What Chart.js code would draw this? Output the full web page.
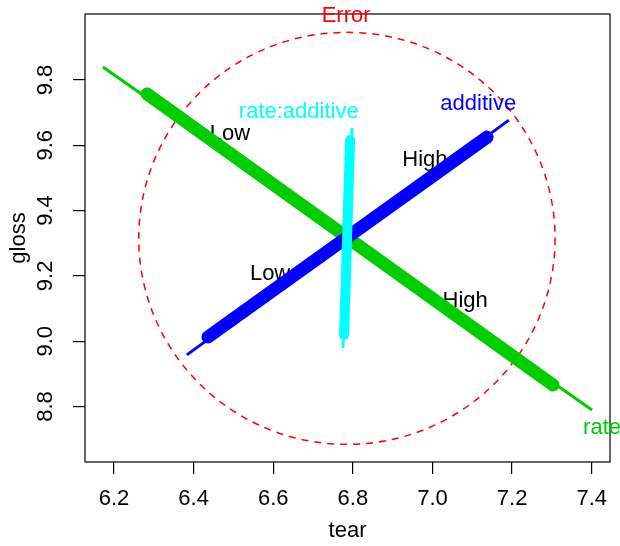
<!DOCTYPE html>
<html>
<head>
<meta charset="utf-8">
<script src="https://cdn.jsdelivr.net/npm/chart.js@4/dist/chart.umd.min.js"></script>
<style>
  html, body { margin: 0; padding: 0; background: #fff; }
  #wrap { width: 620px; height: 546px; }
</style>
</head>
<body>
<div id="wrap"><canvas id="hePlot" width="620" height="546"></canvas></div>
<script>
// HE plot: tear vs gloss, hypothesis lines for rate, additive and their interaction

const xTicks = [6.2, 6.4, 6.6, 6.8, 7.0, 7.2, 7.4];
const yTicks = [8.8, 9.0, 9.2, 9.4, 9.6, 9.8];

// [tear, gloss] end points of each degenerate (1 df) hypothesis ellipse
const rateLine = [[6.172, 9.840], [7.401, 8.789]];
const additiveLine = [[6.383, 8.958], [7.192, 9.677]];
const interLine = [[6.798, 9.653], [6.775, 8.979]];

// level means for each effect
const rateMeans = [[6.283, 9.757], [7.303, 8.866]];
const additiveMeans = [[6.436, 9.013], [7.137, 9.625]];
const interMeans = [[6.793, 9.616], [6.778, 9.019]];

// error ellipse
const errCenter = [6.785, 9.315];
const errRadii = [0.523, 0.631];

// level labels and where they sit
const levelNames = ['Low', 'High', 'Low', 'High'];
const levelPos = [[6.491, 9.635], [7.082, 9.123], [6.592, 9.206], [6.981, 9.555]];

// effect labels
const effectNames = ['rate', 'additive', 'rate:additive', 'Error'];
const effectPos = [[7.426, 8.734], [7.115, 9.726], [6.664, 9.702], [6.783, 9.996]];

const GREEN = '#00CD00', BLUE = '#0000FF', CYAN = '#00FFFF', RED = '#FF0000';
const effectColors = [GREEN, BLUE, CYAN, RED];
const FONT = "'Liberation Sans', Arial, Helvetica, sans-serif";
const FSIZE = 22;

function seg(pts) { return pts.map(p => ({ x: p[0], y: p[1] })); }

function lineSet(pts, color, width, order, cap) {
    return {
        data: seg(pts),
        showLine: true,
        borderColor: color,
        borderWidth: width,
        borderCapStyle: cap || 'butt',
        pointRadius: 0,
        order: order
    };
}

const hePlugin = {
    id: 'heDecor',
    beforeDatasetsDraw(chart) {
        const ctx = chart.ctx;
        const xs = chart.scales.x, ys = chart.scales.y;
        // dashed error ellipse
        const cx = xs.getPixelForValue(errCenter[0]);
        const cy = ys.getPixelForValue(errCenter[1]);
        const rx = xs.getPixelForValue(errCenter[0] + errRadii[0]) - cx;
        const ry = cy - ys.getPixelForValue(errCenter[1] + errRadii[1]);
        ctx.save();
        ctx.strokeStyle = RED;
        ctx.lineWidth = 1.5;
        ctx.setLineDash([7, 6]);
        ctx.beginPath();
        ctx.ellipse(cx, cy, rx, ry, 0, 0, Math.PI * 2);
        ctx.stroke();
        ctx.restore();

        // level labels sit under the lines
        ctx.save();
        ctx.font = FSIZE + 'px ' + FONT;
        ctx.fillStyle = '#000';
        ctx.textAlign = 'center';
        ctx.textBaseline = 'middle';
        levelNames.forEach((t, i) => {
            ctx.fillText(t, xs.getPixelForValue(levelPos[i][0]), ys.getPixelForValue(levelPos[i][1]));
        });
        ctx.restore();
    },
    afterDatasetsDraw(chart) {
        const ctx = chart.ctx;
        const a = chart.chartArea;
        const xs = chart.scales.x, ys = chart.scales.y;
        ctx.save();
        ctx.strokeStyle = '#000';
        ctx.lineWidth = 1.2;
        ctx.strokeRect(a.left, a.top, a.right - a.left, a.bottom - a.top);
        ctx.font = FSIZE + 'px ' + FONT;
        ctx.textAlign = 'center';
        ctx.textBaseline = 'middle';
        effectNames.forEach((t, i) => {
            ctx.fillStyle = effectColors[i];
            ctx.fillText(t, xs.getPixelForValue(effectPos[i][0]), ys.getPixelForValue(effectPos[i][1]));
        });
        ctx.restore();
    }
};

const tickFont = { family: FONT, size: FSIZE };

new Chart(document.getElementById('hePlot'), {
    type: 'scatter',
    data: {
        datasets: [
            lineSet(rateLine, GREEN, 3, 6),
            lineSet(rateMeans, GREEN, 13, 5, 'round'),
            lineSet(additiveLine, BLUE, 3, 4),
            lineSet(additiveMeans, BLUE, 13, 3, 'round'),
            lineSet(interLine, CYAN, 3, 2),
            lineSet(interMeans, CYAN, 10, 1, 'round')
        ]
    },
    options: {
        responsive: false,
        animation: false,
        devicePixelRatio: 1,
        events: [],
        layout: { padding: { top: 14, right: 10, left: 0, bottom: 0 } },
        plugins: { legend: { display: false }, tooltip: { enabled: false } },
        scales: {
            x: {
                type: 'linear',
                min: 6.127,
                max: 7.446,
                afterBuildTicks: axis => { axis.ticks = xTicks.map(v => ({ value: v })); },
                afterFit: axis => { axis.height = 84; axis.paddingLeft = 0; axis.paddingRight = 0; },
                ticks: {
                    color: '#000', font: tickFont, padding: 12, maxRotation: 0, autoSkip: false,
                    callback: v => v.toFixed(1)
                },
                grid: { drawOnChartArea: false, tickLength: 12, color: '#000', lineWidth: 1.2 },
                border: { display: false },
                title: { display: true, text: 'tear', color: '#000', font: tickFont, padding: { top: 0, bottom: 2 } }
            },
            y: {
                type: 'linear',
                min: 8.630,
                max: 10.002,
                afterBuildTicks: axis => { axis.ticks = yTicks.map(v => ({ value: v })); },
                afterFit: axis => { axis.width = 85; axis.paddingTop = 0; axis.paddingBottom = 0; },
                ticks: {
                    color: '#000', font: tickFont, padding: 12, minRotation: 90, maxRotation: 90,
                    crossAlign: 'center', autoSkip: false,
                    callback: v => v.toFixed(1)
                },
                grid: { drawOnChartArea: false, tickLength: 12, color: '#000', lineWidth: 1.2 },
                border: { display: false },
                title: { display: true, text: 'gloss', color: '#000', font: tickFont, padding: { top: 6, bottom: 0 } }
            }
        }
    },
    plugins: [hePlugin]
});
</script>
</body>
</html>
